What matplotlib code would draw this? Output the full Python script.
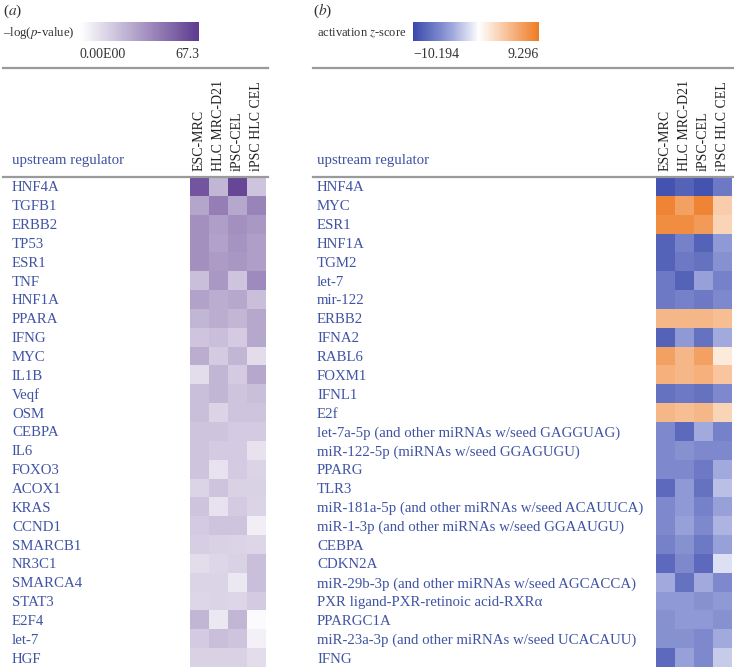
import numpy as np
import matplotlib
matplotlib.use('Agg')
import matplotlib.pyplot as plt
from matplotlib.colors import LinearSegmentedColormap, Normalize
from matplotlib.cm import ScalarMappable
from matplotlib.lines import Line2D

plt.rcParams['font.family'] = ['Liberation Serif', 'DejaVu Serif']
plt.rcParams['mathtext.fontset'] = 'stix'

columns = ['ESC-MRC', 'HLC MRC-D21', 'iPSC-CEL', 'iPSC HLC CEL']

regulators_a = ['HNF4A', 'TGFB1', 'ERBB2', 'TP53', 'ESR1', 'TNF', 'HNF1A', 'PPARA',
                'IFNG', 'MYC', 'IL1B', 'Veqf', 'OSM', 'CEBPA', 'IL6', 'FOXO3', 'ACOX1',
                'KRAS', 'CCND1', 'SMARCB1', 'NR3C1', 'SMARCA4', 'STAT3', 'E2F4', 'let-7', 'HGF']
pvals_a = [
    [58, 25, 63, 20],
    [31, 44, 30, 42],
    [38, 33, 38, 35],
    [38, 32, 37, 33],
    [38, 34, 36, 33],
    [22, 35, 20, 40],
    [32, 28, 30, 22],
    [25, 28, 25, 30],
    [20, 22, 18, 30],
    [28, 18, 25, 12],
    [12, 25, 18, 30],
    [22, 25, 20, 22],
    [22, 15, 20, 20],
    [20, 20, 18, 18],
    [20, 18, 18, 10],
    [20, 10, 18, 15],
    [15, 20, 16, 16],
    [20, 10, 18, 15],
    [18, 20, 20, 6],
    [17, 16, 15, 14],
    [12, 14, 16, 22],
    [15, 15, 8, 22],
    [14, 15, 14, 18],
    [25, 8, 25, 2],
    [18, 22, 20, 5],
    [16, 16, 16, 12],
]
pmin, pmax = 0.0, 67.3

regulators_b = ['HNF4A', 'MYC', 'ESR1', 'HNF1A', 'TGM2', 'let-7', 'mir-122', 'ERBB2',
                'IFNA2', 'RABL6', 'FOXM1', 'IFNL1', 'E2f',
                'let-7a-5p (and other miRNAs w/seed GAGGUAG)',
                'miR-122-5p (miRNAs w/seed GGAGUGU)',
                'PPARG', 'TLR3',
                'miR-181a-5p (and other miRNAs w/seed ACAUUCA)',
                'miR-1-3p (and other miRNAs w/seed GGAAUGU)',
                'CEBPA', 'CDKN2A',
                'miR-29b-3p (and other miRNAs w/seed AGCACCA)',
                'PXR ligand-PXR-retinoic acid-RXR\u03b1',
                'PPARGC1A',
                'miR-23a-3p (and other miRNAs w/seed UCACAUU)',
                'IFNG']
zscores_b = [
    [-9.5, -8.5, -9.5, -7.0],
    [8.5, 6.5, 8.5, 3.5],
    [8.0, 8.0, 7.0, 3.0],
    [-8.5, -6.5, -8.5, -5.0],
    [-8.5, -7.0, -7.5, -5.5],
    [-7.0, -8.5, -4.5, -6.5],
    [-7.0, -6.5, -7.0, -6.0],
    [5.0, 5.0, 5.0, 4.5],
    [-8.5, -5.0, -7.5, -4.0],
    [6.5, 5.0, 6.5, 1.5],
    [5.5, 5.0, 5.5, 4.0],
    [-7.5, -7.0, -7.5, -6.0],
    [5.0, 4.5, 5.0, 3.0],
    [-6.0, -8.0, -4.0, -6.5],
    [-6.0, -5.5, -6.0, -6.0],
    [-6.0, -6.0, -7.0, -4.0],
    [-8.0, -5.0, -7.5, -3.0],
    [-6.0, -5.0, -6.5, -4.5],
    [-6.0, -4.5, -6.0, -3.5],
    [-6.5, -5.5, -7.0, -4.5],
    [-8.0, -6.0, -8.0, -1.5],
    [-4.0, -7.5, -4.0, -6.0],
    [-5.0, -5.0, -5.5, -5.0],
    [-5.5, -5.0, -5.0, -5.5],
    [-5.5, -5.5, -6.0, -4.0],
    [-8.0, -4.5, -6.0, -2.5],
]
zmin, zmax = -10.194, 9.296

BLUE_TXT = '#4054a4'
GRAY = '#9a9a9a'
FS = 10.7

W, H = 734, 669
fig = plt.figure(figsize=(W / 100, H / 100), dpi=100)


def px_axes(x0, y0, x1, y1):
    return fig.add_axes([x0 / W, 1 - y1 / H, (x1 - x0) / W, (y1 - y0) / H])


def hline(x0, x1, y):
    fig.add_artist(Line2D([x0 / W, x1 / W], [1 - y / H, 1 - y / H],
                          transform=fig.transFigure, color=GRAY, lw=1.6))


cmap_a = LinearSegmentedColormap.from_list('pu', ['#ffffff', '#5c3a8e'])
norm_a = Normalize(pmin, pmax)
zc = (0 - zmin) / (zmax - zmin)
cmap_b = LinearSegmentedColormap.from_list(
    'bo', [(0.0, '#3848aa'), (0.3, '#9aa3da'), (zc, '#ffffff'), (1.0, '#ee7a22')])
norm_b = Normalize(zmin, zmax)


def heat(x0, x1, label_x, data, labels, cmap, norm):
    ax = px_axes(x0, 177, x1, 667)
    data = np.array(data)
    n = len(labels)
    ax.pcolormesh(np.arange(5), np.arange(n + 1), data, cmap=cmap, norm=norm,
                  edgecolors='none')
    ax.set_xlim(0, 4)
    ax.set_ylim(n, 0)
    ax.set_yticks(np.arange(n) + 0.5)
    ax.set_yticklabels(labels, fontsize=FS, color=BLUE_TXT)
    for t in ax.get_yticklabels():
        t.set_horizontalalignment('left')
    ax.tick_params(axis='y', length=0, pad=(x0 - label_x) * 0.72)
    ax.xaxis.tick_top()
    ax.set_xticks(np.arange(4) + 0.5)
    ax.set_xticklabels(columns, rotation=90, fontsize=10, color='#222222')
    ax.tick_params(axis='x', length=0, pad=4)
    for s in ax.spines.values():
        s.set_visible(False)
    return ax


heat(190, 266, 12, pvals_a, regulators_a, cmap_a, norm_a)
heat(656, 732, 317, zscores_b, regulators_b, cmap_b, norm_b)


def cbar(x0, x1, cmap, norm, ticklabels):
    cax = px_axes(x0, 22, x1, 41)
    cb = fig.colorbar(ScalarMappable(norm=norm, cmap=cmap), cax=cax,
                      orientation='horizontal')
    cb.outline.set_visible(False)
    cb.set_ticks([norm.vmin, norm.vmax])
    cb.set_ticklabels(ticklabels)
    cax.tick_params(length=0, pad=5, labelsize=10, labelcolor='#333333')
    labs = cax.get_xticklabels()
    labs[0].set_horizontalalignment('left')
    labs[1].set_horizontalalignment('right')
    return cb


cbar(80, 199, cmap_a, norm_a, ['0.00E00', '67.3'])
cbar(413, 539, cmap_b, norm_b, ['\u221210.194', '9.296'])

# panel letters and colorbar titles
fig.text(3 / W, 1 - 11 / H, '($a$)', fontsize=11, va='center', ha='left', color='#333333')
fig.text(313 / W, 1 - 11 / H, '($b$)', fontsize=11, va='center', ha='left', color='#333333')
fig.text(3 / W, 1 - 33 / H, '\u2013log($p$-value)', fontsize=9.3, va='center', ha='left',
         color='#333333')
fig.text(317 / W, 1 - 33 / H, 'activation $z$-score', fontsize=9.0, va='center',
         ha='left', color='#333333')

fig.text(12 / W, 1 - 161 / H, 'upstream regulator', fontsize=FS, va='center',
         ha='left', color=BLUE_TXT)
fig.text(317 / W, 1 - 161 / H, 'upstream regulator', fontsize=FS, va='center',
         ha='left', color=BLUE_TXT)

hline(3, 268, 68)
hline(313, 734, 68)
hline(3, 268, 177)
hline(313, 734, 177)

fig.savefig('out.png', dpi=100)
